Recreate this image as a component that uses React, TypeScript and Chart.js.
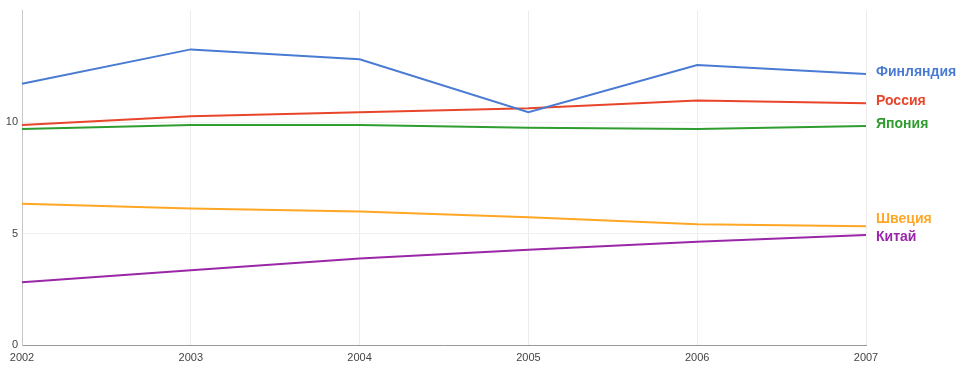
import React, { useEffect, useRef } from "react";
import { Chart, registerables } from "chart.js";

Chart.register(...registerables);

const years = ["2002", "2003", "2004", "2005", "2006", "2007"];
const finland = [11.72, 13.26, 12.82, 10.44, 12.56, 12.16];
const russia = [9.87, 10.26, 10.44, 10.62, 10.97, 10.84];
const japan = [9.69, 9.87, 9.87, 9.74, 9.69, 9.82];
const sweden = [6.34, 6.12, 5.99, 5.73, 5.42, 5.33];
const china = [2.82, 3.35, 3.88, 4.27, 4.63, 4.93];
const seriesNames = ["Финляндия", "Россия", "Япония", "Швеция", "Китай"];
const seriesColors = ["#4a7bd3", "#e8452a", "#2f9d2f", "#ffa724", "#9a27a8"];

const endLabels = {
  id: "endLabels",
  afterDatasetsDraw(chart: any) {
    const ctx = chart.ctx;
    const area = chart.chartArea;
    const items = chart.data.datasets.map((ds: any, i: number) => {
      const meta = chart.getDatasetMeta(i);
      const pt = meta.data[meta.data.length - 1];
      return { text: ds.label, color: ds.borderColor, y: pt.y };
    });
    const sorted = [...items].sort((a, b) => a.y - b.y);
    const gap = 18;
    for (let iter = 0; iter < 20; iter++) {
      for (let i = 1; i < sorted.length; i++) {
        const d = sorted[i].y - sorted[i - 1].y;
        if (d < gap) {
          const push = (gap - d) / 2;
          sorted[i - 1].y -= push;
          sorted[i].y += push;
        }
      }
    }
    ctx.save();
    ctx.font = "bold 14px 'Liberation Sans', Arial, sans-serif";
    ctx.textBaseline = "middle";
    ctx.textAlign = "left";
    for (const it of items) {
      ctx.fillStyle = it.color;
      ctx.fillText(it.text, area.right + 10, it.y - 2);
    }
    ctx.restore();
  },
};

export default function App() {
  const ref = useRef<HTMLCanvasElement>(null);
  useEffect(() => {
    if (!ref.current) return;
    const data = [finland, russia, japan, sweden, china];
    const chart = new Chart(ref.current, {
      type: "line",
      data: {
        labels: years,
        datasets: data.map((d, i) => ({
          label: seriesNames[i],
          data: d,
          borderColor: seriesColors[i],
          backgroundColor: seriesColors[i],
          borderWidth: 2,
          pointRadius: 0,
          tension: 0,
          fill: false,
        })),
      },
      options: {
        animation: false,
        responsive: false,
        maintainAspectRatio: false,
        layout: { padding: { top: 6, right: 109, left: 0, bottom: 0 } },
        plugins: { legend: { display: false }, tooltip: { enabled: false } },
        scales: {
          x: {
            type: "category",
            offset: false,
            grid: {
              color: "#ececec",
              drawTicks: false,
            },
            border: { color: "#999999", width: 1 },
            ticks: {
              color: "#444444",
              font: { family: "'Liberation Sans', Arial, sans-serif", size: 11 },
              maxRotation: 0,
              autoSkip: false,
              padding: 6,
            },
            afterFit: (s: any) => {
              s.height = 24;
            },
          },
          y: {
            min: 0,
            max: 15,
            grid: {
              color: (c: any) => (c.tick && c.tick.value === 15 ? "rgba(0,0,0,0)" : "#f0f0f0"),
              drawTicks: false,
            },
            border: { color: "#c8c8c8", width: 1 },
            ticks: {
              stepSize: 5,
              color: "#444444",
              font: { family: "'Liberation Sans', Arial, sans-serif", size: 11 },
              padding: 4,
              callback: (v: any) => (v === 15 ? "" : String(v)),
            },
            afterFit: (s: any) => {
              s.width = 22;
            },
          },
        },
      },
      plugins: [endLabels],
    });
    return () => chart.destroy();
  }, []);
  return (
    <div style={{ position: "fixed", left: 0, top: 0, width: 975, height: 369, background: "#fff" }}>
      <canvas ref={ref} width={975} height={369} style={{ display: "block" }} />
    </div>
  );
}
